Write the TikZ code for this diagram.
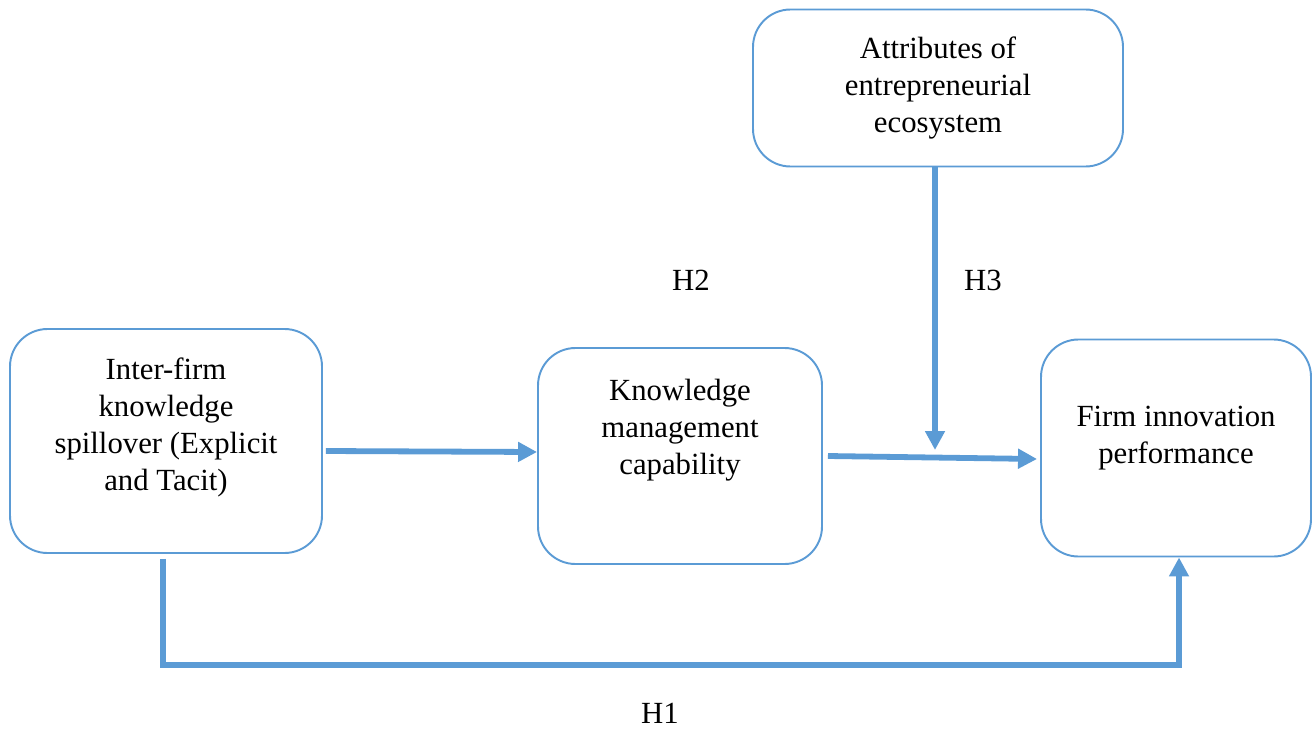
\documentclass[tikz,border=0pt]{standalone}
\usepackage{fontspec}
\setmainfont{Liberation Serif}
\usepackage{xcolor}
\usepackage{tikz}
\usetikzlibrary{arrows.meta, positioning, calc}

\definecolor{linkblue}{HTML}{5B9BD5}

\begin{document}
\begin{tikzpicture}[
    box/.style={rectangle, rounded corners=0.75cm, draw=linkblue, line width=1.1pt, fill=white, align=center, font=\fontsize{17.5}{21}\selectfont},
    lbl/.style={font=\fontsize{17.5}{21}\selectfont},
    arr/.style={-{Triangle[length=0.38cm, width=0.38cm]}, draw=linkblue, line width=3.3pt},
]
    \useasboundingbox (0,0) rectangle (26.28,-14.58);

    % Constructs
    \node[box, minimum width=6.24cm, minimum height=4.48cm, text depth=0.67cm] (spill) at (3.32,-8.82) {Inter-firm\\knowledge\\spillover (Explicit\\and Tacit)};
    \node[box, minimum width=5.68cm, minimum height=4.32cm, text depth=1.18cm] (kmc) at (13.6,-9.12) {Knowledge\\management\\capability};
    \node[box, minimum width=7.4cm, minimum height=3.14cm] (attr) at (18.76,-1.76) {Attributes of\\entrepreneurial\\ecosystem};
    \node[box, minimum width=5.4cm, minimum height=4.34cm, text depth=0.54cm] (perf) at (23.52,-8.96) {Firm innovation\\performance};

    % Hypotheses
    \node[lbl] (h2) at (13.82,-5.6) {H2};
    \node[lbl] (h3) at (19.66,-5.6) {H3};
    \node[lbl] (h1) at (13.2,-14.26) {H1};

    \coordinate (h3end) at (18.7,-9.0);

    \draw[arr] ([xshift=0.06cm, yshift=-0.2cm]spill.east) -- ([yshift=0.08cm]kmc.west);
    \draw[arr] ([xshift=0.1cm]kmc.east) -- ([xshift=-0.06cm, yshift=-0.22cm]perf.west);
    \draw[arr] ([xshift=-0.06cm]attr.south) -- (h3end);
    \draw[arr] ([xshift=-0.06cm, yshift=-0.1cm]spill.south) -- ++(0,-2.12) -| ([xshift=0.06cm]perf.south);
\end{tikzpicture}
\end{document}
